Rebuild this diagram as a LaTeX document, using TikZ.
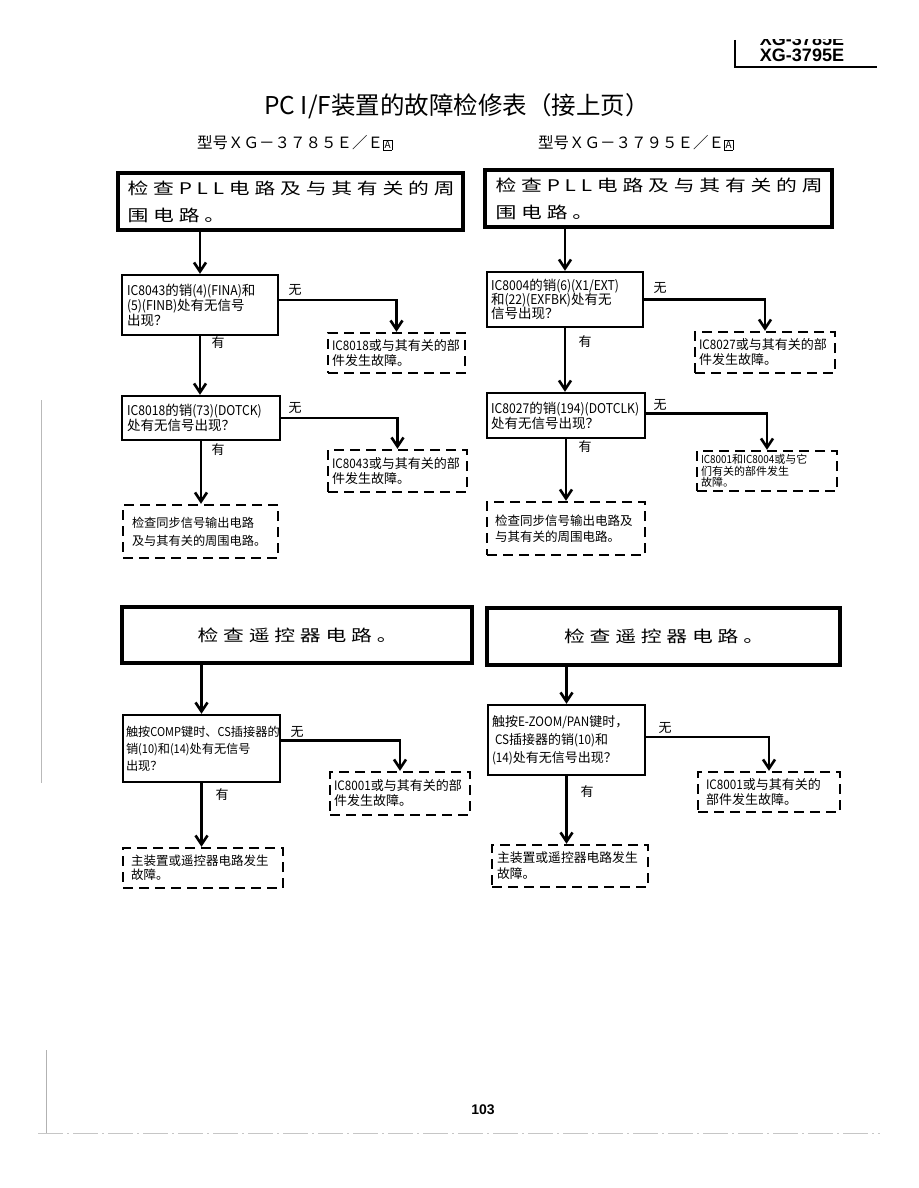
\documentclass[tikz,border=0pt]{standalone}
\usepackage{fontspec}
\usepackage{graphicx}
\setmainfont{Noto Sans CJK SC}
\newfontfamily\hdf{Liberation Sans}
\usetikzlibrary{arrows.meta}
\newcommand\ltn[1]{\scalebox{0.9}[1]{#1}}
\def\spcA#1{\ifx\relax#1\else#1\hspace{3.7pt}\expandafter\spcA\fi}
\newcommand\wide[1]{\hspace*{6pt}\scalebox{1.3}[1]{\spcA#1\relax}}
\newcommand\boxA{\setlength\fboxsep{0.8pt}\setlength\fboxrule{0.7pt}\fbox{\fontsize{10}{10}\selectfont A}}
\tikzset{
  thickbox/.style={draw, line width=4pt, inner sep=0pt, font=\fontsize{16}{27}\selectfont, align=left},
  qbox/.style={draw, line width=2.4pt, inner xsep=5pt, inner ysep=1pt, font=\fontsize{13.5}{15}\selectfont, align=left},
  dbox/.style={draw, line width=2.4pt, dash pattern=on 10pt off 6pt, inner xsep=4pt, inner ysep=1pt, font=\fontsize{13}{15}\selectfont, align=left},
  conn/.style={line width=2.6pt, -{Straight Barb[length=9pt,width=12pt]}},
  lbl/.style={font=\fontsize{13}{15}\selectfont, inner sep=0pt},
  sz/.style n args={3}{minimum width=#1, minimum height=#2, text width=#3},
}
\begin{document}
\begin{tikzpicture}[x=1pt, y=-1pt]
\useasboundingbox (0,0) rectangle (918,1188);
\fill[white] (0,0) rectangle (918,1188);

% header
\begin{scope}
  \clip (700,40) rectangle (900,48);
  \node[anchor=base, font=\hdf\bfseries\fontsize{18}{18}\selectfont, inner sep=0pt] (hdcut) at (802,46) {XG-3785E};
\end{scope}
\node[anchor=base, font=\hdf\bfseries\fontsize{18}{18}\selectfont, inner sep=0pt] (hd) at (802,62) {XG-3795E};
\draw[line width=1.5pt] (735,40) -- (735,67) -- (877,67);

% title
\node[font=\fontsize{24.5}{25}\selectfont, inner sep=0pt] (title) at (457,106) {PC I/F装置的故障检修表（接上页）};
\node[font=\fontsize{15.5}{16}\selectfont, anchor=west, inner sep=0pt] (st1) at (197,143) {型号ＸＧ－３７８５Ｅ／Ｅ\boxA};
\node[font=\fontsize{15.5}{16}\selectfont, anchor=west, inner sep=0pt] (st2) at (538,143) {型号ＸＧ－３７９５Ｅ／Ｅ\boxA};

% ---------- left upper ----------
\node[thickbox, minimum width=345, minimum height=57] (A1) at (290.5,201.5) {\wide{检查PLL电路及与其有关的周}\\\wide{围电路。}};
\node[qbox, sz={156}{60}{146}] (B1) at (200,305) {\ltn{IC8043}的销\ltn{(4)(FINA)}和\\\ltn{(5)(FINB)}处有无信号\\出现？};
\node[dbox, sz={137}{40}{129}] (C1) at (396.5,353) {\ltn{IC8018}或与其有关的部\\件发生故障。};
\node[qbox, sz={158}{44}{148}] (B2) at (201,418) {\ltn{IC8018}的销\ltn{(73)(DOTCK)}\\处有无信号出现？};
\node[dbox, sz={139}{42}{131}] (C2) at (397.5,471) {\ltn{IC8043}或与其有关的部\\件发生故障。};
\node[dbox, sz={155}{53}{137}, inner xsep=9pt, font=\fontsize{12.2}{18}\selectfont] (D1) at (200.5,531.5) {检查同步信号输出电路\\及与其有关的周围电路。};

\node[lbl] (n1) at (295,290) {无};
\node[lbl] (y1) at (218,343) {有};
\node[lbl] (n2) at (295,408) {无};
\node[lbl] (y2) at (218,450) {有};

\draw[conn] (A1.south -| B1.north) -- (B1.north);
\draw[conn] ([yshift=5pt]B1.east) -| (C1.north);
\draw[conn] (B1.south) -- (B1.south |- B2.north);
\draw[conn] (B2.east) -| (C2.north);
\draw[conn] (B2.south) -- (B2.south |- D1.north);

% ---------- right upper ----------
\node[thickbox, minimum width=347, minimum height=57] (A2) at (658.5,198.5) {\wide{检查PLL电路及与其有关的周}\\\wide{围电路。}};
\node[qbox, sz={156}{55}{148}, inner xsep=4pt, font=\fontsize{13.5}{14}\selectfont] (B3) at (565,299.5) {\ltn{IC8004}的销\ltn{(6)(X1/EXT)}\\和\ltn{(22)(EXFBK)}处有无\\信号出现？};
\node[dbox, sz={140}{41}{132}] (C3) at (765,352.5) {\ltn{IC8027}或与其有关的部\\件发生故障。};
\node[qbox, sz={158}{45}{150}, inner xsep=4pt] (B4) at (566,415.5) {\ltn{IC8027}的销\ltn{(194)(DOTCLK)}\\处有无信号出现？};
\node[dbox, sz={140}{40}{132}, font=\fontsize{11}{11.5}\selectfont] (C4) at (767,471) {\ltn{IC8001}和\ltn{IC8004}或与它\\们有关的部件发生\\故障。};
\node[dbox, sz={158}{53}{142}, inner xsep=8pt, font=\fontsize{12.5}{16.5}\selectfont] (D2) at (566,528.5) {检查同步信号输出电路及\\与其有关的周围电路。};

\node[lbl] (n3) at (660,288) {无};
\node[lbl] (y3) at (585,342) {有};
\node[lbl] (n4) at (660,405) {无};
\node[lbl] (y4) at (585,447) {有};

\draw[conn] (A2.south -| B3.north) -- (B3.north);
\draw[conn] (B3.east) -| (C3.north);
\draw[conn] (B3.south) -- (B3.south |- B4.north);
\draw[conn] ([yshift=2pt]B4.east) -| (C4.north);
\draw[conn] (B4.south) -- (B4.south |- D2.north);

% ---------- left lower ----------
\node[thickbox, minimum width=350, minimum height=56] (E1) at (297,635) {\wide{检查遥控器电路。}};
\node[qbox, sz={157}{67}{151}, inner xsep=3pt, font=\fontsize{12.2}{17}\selectfont] (F1) at (201.5,748.5) {触按\ltn{COMP}键时、\ltn{CS}插接器的\\销\ltn{(10)}和\ltn{(14)}处有无信号\\出现？};
\node[dbox, sz={140}{43}{132}] (G1) at (400,793.5) {\ltn{IC8001}或与其有关的部\\件发生故障。};
\node[dbox, sz={160}{40}{144}, inner xsep=8pt, font=\fontsize{12.5}{14}\selectfont] (H1) at (203,868) {主装置或遥控器电路发生\\故障。};

\node[lbl] (n5) at (297,732) {无};
\node[lbl] (y5) at (222,795) {有};

\draw[conn] (E1.south -| F1.north) -- (F1.north);
\draw[conn] ([yshift=8pt]F1.east) -| (G1.north);
\draw[conn] (F1.south) -- (F1.south |- H1.north);

% ---------- right lower ----------
\node[thickbox, minimum width=353, minimum height=57] (E2) at (663.5,636.5) {\wide{检查遥控器电路。}};
\node[qbox, sz={157}{70}{149}, inner xsep=4pt, font=\fontsize{13}{18}\selectfont] (F2) at (566.5,740) {触按\ltn{E-ZOOM/PAN}键时，\\\hspace*{3pt}\ltn{CS}插接器的销\ltn{(10)}和\\\ltn{(14)}处有无信号出现？};
\node[dbox, sz={142}{40}{126}, inner xsep=8pt] (G2) at (769,792) {\ltn{IC8001}或与其有关的\\部件发生故障。};
\node[dbox, sz={156}{42}{146}, inner xsep=5pt, font=\fontsize{12.8}{16}\selectfont] (H2) at (570,866) {主装置或遥控器电路发生\\故障。};

\node[lbl] (n6) at (665,728) {无};
\node[lbl] (y6) at (587,792) {有};

\draw[conn] (E2.south -| F2.north) -- (F2.north);
\draw[conn] ([yshift=3pt]F2.east) -| (G2.north);
\draw[conn] (F2.south) -- (F2.south |- H2.north);

% page number and scan margins
\node[font=\hdf\bfseries\fontsize{14}{14}\selectfont, inner sep=0pt] (pg) at (483,1110) {103};
\draw[gray!55, line width=0.7pt] (41,400) -- (41,783);
\draw[gray!60, line width=0.8pt] (46,1050) -- (46,1133);
\draw[gray!45, line width=0.6pt, dash pattern=on 25pt off 4pt on 2pt off 4pt] (38,1133) -- (880,1133);
\end{tikzpicture}
\end{document}
